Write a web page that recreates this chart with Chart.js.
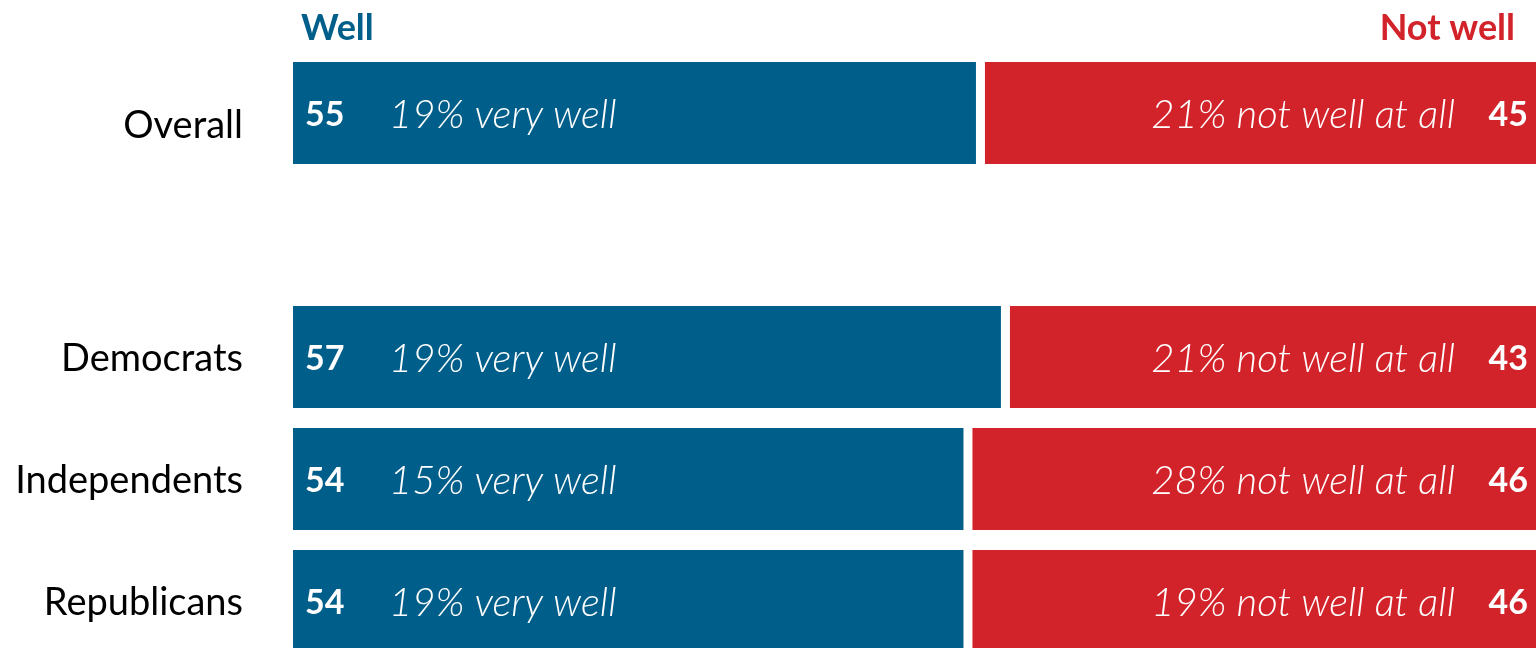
<!DOCTYPE html>
<html>
<head>
<meta charset="utf-8">
<script src="https://cdn.jsdelivr.net/npm/chart.js@4/dist/chart.umd.min.js"></script>
<style>
    html, body { margin: 0; padding: 0; background: #fff; overflow: hidden; }
    #chart-wrap { width: 1536px; height: 648px; overflow: hidden; }
</style>
</head>
<body>
<div id="chart-wrap">
    <canvas id="well-chart" width="1542" height="662"></canvas>
</div>
<script>
// Chart data
const categories = ['Overall', '', 'Democrats', 'Independents', 'Republicans'];
const wellValues = [55, null, 57, 54, 54];
const notWellValues = [45, null, 43, 46, 46];
const veryWellValues = [19, null, 19, 15, 19];
const notWellAtAllValues = [21, null, 21, 28, 19];

const BLUE = '#005e8a';
const RED = '#d2232a';
const FONT = 'Lato, "Open Sans", sans-serif';

// Draws the headers, the category names and the labels inside bars
const barLabels = {
    id: 'barLabels',
    afterDatasetsDraw(chart) {
        const ctx = chart.ctx;
        const area = chart.chartArea;
        const yScale = chart.scales.y;
        ctx.save();

        // Headers
        ctx.textBaseline = 'alphabetic';
        ctx.font = 'bold 36px ' + FONT;
        ctx.fillStyle = BLUE;
        ctx.textAlign = 'left';
        ctx.fillText('Well', area.left + 8, 40);
        ctx.fillStyle = RED;
        ctx.textAlign = 'right';
        ctx.fillText('Not well', area.right - 27, 40);

        const wellMeta = chart.getDatasetMeta(0);
        const notMeta = chart.getDatasetMeta(1);
        ctx.textBaseline = 'middle';

        categories.forEach((cat, i) => {
            const yPos = yScale.getPixelForValue(i);

            // Category name (the first one sits a little lower in the original)
            ctx.fillStyle = '#000';
            ctx.textAlign = 'right';
            ctx.font = '38px ' + FONT;
            ctx.fillText(cat, area.left - 50, yPos + (i === 0 ? 13 : 2));

            if (wellValues[i] == null) return;
            const wBar = wellMeta.data[i];
            const nBar = notMeta.data[i];
            const y = yPos + 2;
            ctx.fillStyle = '#fff';

            ctx.textAlign = 'left';
            ctx.font = 'bold 34px ' + FONT;
            ctx.fillText(String(wellValues[i]), wBar.base + 12, y);
            ctx.font = 'italic 300 40px ' + FONT;
            ctx.fillText(veryWellValues[i] + '% very well', wBar.base + 96, y);

            ctx.textAlign = 'right';
            ctx.font = 'bold 34px ' + FONT;
            ctx.fillText(String(notWellValues[i]), nBar.x - 14, y);
            ctx.font = 'italic 300 40px ' + FONT;
            ctx.fillText(notWellAtAllValues[i] + '% not well at all', nBar.x - 87, y);
        });

        ctx.restore();
    }
};

const ctx = document.getElementById('well-chart').getContext('2d');

window.wellChart = new Chart(ctx, {
    type: 'bar',
    data: {
        labels: categories,
        datasets: [
            {
                label: 'Well',
                data: wellValues,
                backgroundColor: BLUE,
                borderColor: '#fff',
                borderWidth: { top: 0, bottom: 0, left: 0, right: 4 },
                borderSkipped: false
            },
            {
                label: 'Not well',
                data: notWellValues,
                backgroundColor: RED,
                borderColor: '#fff',
                borderWidth: { top: 0, bottom: 0, left: 5, right: 0 },
                borderSkipped: false
            }
        ]
    },
    options: {
        indexAxis: 'y',
        responsive: false,
        animation: false,
        devicePixelRatio: 1,
        barPercentage: 0.836,
        categoryPercentage: 1,
        layout: {
            padding: { top: 52, right: 0, bottom: 0, left: 0 }
        },
        scales: {
            x: {
                stacked: true,
                min: 0,
                max: 100,
                display: false
            },
            y: {
                stacked: true,
                grid: { display: false },
                border: { display: false },
                ticks: { display: false },
                afterFit: function(scale) {
                    scale.width = 293;
                }
            }
        },
        plugins: {
            legend: { display: false },
            tooltip: { enabled: false }
        }
    },
    plugins: [barLabels]
});
</script>
</body>
</html>
